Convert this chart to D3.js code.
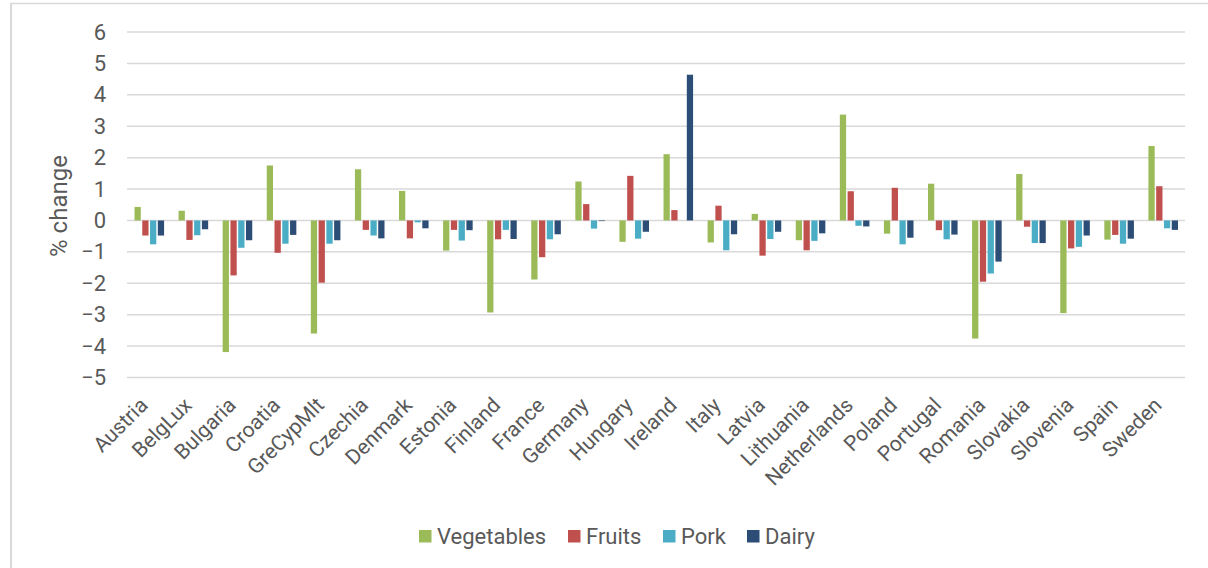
<!DOCTYPE html>
<html>
<head>
<meta charset="utf-8">
<script src="https://cdn.jsdelivr.net/npm/d3@7"></script>
<style>
  html, body { margin: 0; padding: 0; background: #fff; }
  svg { display: block; }
  text { font-family: Roboto, "Open Sans", sans-serif; fill: #595959; }
</style>
</head>
<body>
<svg id="chart" width="1208" height="568"></svg>
<script>
// Categories and series values (% change)
const countries = ["Austria", "BelgLux", "Bulgaria", "Croatia", "GreCypMlt", "Czechia", "Denmark", "Estonia",
  "Finland", "France", "Germany", "Hungary", "Ireland", "Italy", "Latvia", "Lithuania", "Netherlands",
  "Poland", "Portugal", "Romania", "Slovakia", "Slovenia", "Spain", "Sweden"];
const seriesNames = ["Vegetables", "Fruits", "Pork", "Dairy"];
const vegetables = [0.43, 0.31, -4.19, 1.75, -3.60, 1.63, 0.94, -0.96, -2.93, -1.88, 1.24, -0.68, 2.11, -0.70,
  0.21, -0.63, 3.37, -0.42, 1.17, -3.76, 1.48, -2.95, -0.61, 2.37];
const fruits = [-0.48, -0.62, -1.75, -1.03, -1.98, -0.30, -0.57, -0.30, -0.60, -1.17, 0.52, 1.42, 0.33, 0.47,
  -1.12, -0.95, 0.93, 1.04, -0.31, -1.95, -0.20, -0.89, -0.46, 1.09];
const pork = [-0.76, -0.47, -0.87, -0.74, -0.74, -0.48, -0.06, -0.64, -0.30, -0.60, -0.26, -0.58, 0.00, -0.95,
  -0.59, -0.65, -0.17, -0.76, -0.60, -1.69, -0.72, -0.84, -0.74, -0.25];
const dairy = [-0.48, -0.28, -0.63, -0.46, -0.63, -0.57, -0.25, -0.31, -0.59, -0.44, -0.02, -0.36, 4.64, -0.44,
  -0.36, -0.41, -0.19, -0.55, -0.45, -1.31, -0.72, -0.48, -0.58, -0.30];
const yTicks = [-5, -4, -3, -2, -1, 0, 1, 2, 3, 4, 5, 6];
const colors = ["#9bbb59", "#c0504d", "#4bacc6", "#2c4d75"];

const seriesValues = [vegetables, fruits, pork, dairy];
const rows = countries.map((c, i) => ({
  country: c,
  values: seriesNames.map((s, k) => ({ series: s, value: seriesValues[k][i] }))
}));

const svg = d3.select("#chart");
const fontFamily = "Roboto, 'Open Sans', sans-serif";

// Outer frame (left and top edges)
svg.append("line").attr("x1", 11).attr("x2", 11).attr("y1", 3).attr("y2", 568)
  .attr("stroke", "#d9d9d9").attr("stroke-width", 2);
svg.append("line").attr("x1", 10).attr("x2", 1208).attr("y1", 3.5).attr("y2", 3.5)
  .attr("stroke", "#d9d9d9").attr("stroke-width", 1.5);

const plot = { left: 127, right: 1185, top: 32, bottom: 377.5 };

const x0 = d3.scaleBand().domain(countries).range([plot.left, plot.right]).paddingInner(0).paddingOuter(0);
const groupPad = 7;
const x1 = d3.scaleBand().domain(seriesNames).range([groupPad, x0.bandwidth() - groupPad + 1]);
const y = d3.scaleLinear().domain([-5, 6]).range([plot.bottom, plot.top]);

// Gridlines
svg.append("g")
  .selectAll("line")
  .data(yTicks)
  .join("line")
  .attr("x1", plot.left).attr("x2", plot.right)
  .attr("y1", d => y(d)).attr("y2", d => y(d))
  .attr("stroke", "#d9d9d9").attr("stroke-width", 1.5);

// Y axis labels
const yAxis = d3.axisLeft(y).tickValues(yTicks).tickSize(0).tickPadding(0).tickFormat(d3.format("d"));
const yg = svg.append("g").attr("transform", `translate(106,0)`).call(yAxis);
yg.select(".domain").remove();
yg.selectAll("text").attr("font-size", 22).style("font-family", fontFamily).attr("fill", "#595959");

// Y axis title
svg.append("text")
  .attr("transform", "translate(67,206) rotate(-90)")
  .attr("text-anchor", "middle")
  .attr("font-size", 24)
  .text("% change");

// Bars
const groups = svg.append("g").selectAll("g")
  .data(rows)
  .join("g")
  .attr("transform", d => `translate(${x0(d.country)},0)`);

groups.selectAll("rect")
  .data(d => d.values)
  .join("rect")
  .attr("x", d => x1(d.series) + 0.5)
  .attr("width", x1.bandwidth() - 1.5)
  .attr("y", d => y(Math.max(0, d.value)))
  .attr("height", d => Math.abs(y(d.value) - y(0)))
  .attr("fill", (d, i) => colors[i]);

// Category labels
const xAxis = d3.axisBottom(x0).tickSize(0).tickPadding(0);
const xg = svg.append("g").attr("transform", `translate(0,${plot.bottom})`).call(xAxis);
xg.select(".domain").remove();
xg.selectAll("text")
  .attr("font-size", 21)
  .style("font-family", fontFamily)
  .attr("fill", "#595959")
  .attr("text-anchor", "end")
  .attr("dy", null)
  .attr("y", 0)
  .attr("transform", "translate(0,29) rotate(-45)");

// Legend
const legendX = [419, 568, 663, 747];
const legend = svg.append("g").selectAll("g")
  .data(seriesNames)
  .join("g")
  .attr("transform", (d, i) => `translate(${legendX[i]},530)`);
legend.append("rect").attr("width", 12.5).attr("height", 12.5).attr("fill", (d, i) => colors[i]);
legend.append("text").attr("x", 18).attr("y", 13.5).attr("font-size", 22).text(d => d);
</script>
</body>
</html>
